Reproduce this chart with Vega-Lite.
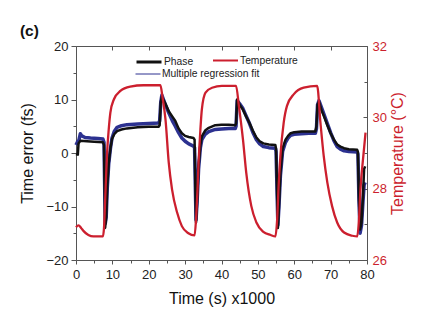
{
  "$schema": "https://vega.github.io/schema/vega-lite/v6.json",
  "width": 291,
  "height": 214,
  "autosize": {"type": "none"},
  "padding": {"left": 76, "top": 46, "right": 69, "bottom": 74},
  "title": {"text": "(c)", "anchor": "start", "frame": "bounds", "offset": 1, "fontSize": 15.5, "fontWeight": "bold", "font": "Liberation Sans", "color": "#111111"},
  "config": {
    "view": {"stroke": null},
    "font": "Liberation Sans",
    "axis": {"grid": false, "domainColor": "#555555", "tickColor": "#555555", "labelColor": "#222222", "titleColor": "#111111", "labelFontSize": 13, "titleFontSize": 16, "titleFontWeight": "normal", "labelFont": "Liberation Sans", "titleFont": "Liberation Sans", "domainWidth": 1, "tickWidth": 1, "labelFlush": false},
    "legend": {"title": null, "orient": "none", "symbolType": "stroke", "symbolSize": 625, "labelFontSize": 10.3, "labelColor": "#222222", "labelOffset": 1, "labelFont": "Liberation Sans"}
  },
  "datasets": {
    "fit": [
      {"t": 0, "v": 1.5, "series": "Multiple regression fit"},
      {"t": 0.5, "v": 2.2, "series": "Multiple regression fit"},
      {"t": 0.8, "v": 2.4, "series": "Multiple regression fit"},
      {"t": 1.2, "v": 3.6, "series": "Multiple regression fit"},
      {"t": 1.6, "v": 3.2, "series": "Multiple regression fit"},
      {"t": 2.5, "v": 2.9, "series": "Multiple regression fit"},
      {"t": 4, "v": 2.8, "series": "Multiple regression fit"},
      {"t": 6, "v": 2.7, "series": "Multiple regression fit"},
      {"t": 7.4, "v": 2.6, "series": "Multiple regression fit"},
      {"t": 7.7, "v": 2.0, "series": "Multiple regression fit"},
      {"t": 7.9, "v": -7, "series": "Multiple regression fit"},
      {"t": 8.05, "v": -13.2, "series": "Multiple regression fit"},
      {"t": 8.3, "v": -12, "series": "Multiple regression fit"},
      {"t": 8.6, "v": -6.5, "series": "Multiple regression fit"},
      {"t": 9.0, "v": -2, "series": "Multiple regression fit"},
      {"t": 9.5, "v": 1.0, "series": "Multiple regression fit"},
      {"t": 9.9, "v": 2.8, "series": "Multiple regression fit"},
      {"t": 10.5, "v": 4.0, "series": "Multiple regression fit"},
      {"t": 11.3, "v": 4.8, "series": "Multiple regression fit"},
      {"t": 12.5, "v": 5.1, "series": "Multiple regression fit"},
      {"t": 14, "v": 5.3, "series": "Multiple regression fit"},
      {"t": 17, "v": 5.4, "series": "Multiple regression fit"},
      {"t": 20, "v": 5.5, "series": "Multiple regression fit"},
      {"t": 22.7, "v": 5.6, "series": "Multiple regression fit"},
      {"t": 23.0, "v": 6.0, "series": "Multiple regression fit"},
      {"t": 23.3, "v": 9.5, "series": "Multiple regression fit"},
      {"t": 23.6, "v": 10.8, "series": "Multiple regression fit"},
      {"t": 24.6, "v": 9.0, "series": "Multiple regression fit"},
      {"t": 25.5, "v": 7.5, "series": "Multiple regression fit"},
      {"t": 26.5, "v": 6.0, "series": "Multiple regression fit"},
      {"t": 27.3, "v": 5.0, "series": "Multiple regression fit"},
      {"t": 28.2, "v": 3.8, "series": "Multiple regression fit"},
      {"t": 29.1, "v": 2.8, "series": "Multiple regression fit"},
      {"t": 30, "v": 2.2, "series": "Multiple regression fit"},
      {"t": 31, "v": 1.7, "series": "Multiple regression fit"},
      {"t": 32.3, "v": 1.3, "series": "Multiple regression fit"},
      {"t": 32.6, "v": 1.0, "series": "Multiple regression fit"},
      {"t": 32.8, "v": -6, "series": "Multiple regression fit"},
      {"t": 33.0, "v": -12.5, "series": "Multiple regression fit"},
      {"t": 33.3, "v": -9, "series": "Multiple regression fit"},
      {"t": 33.7, "v": -3, "series": "Multiple regression fit"},
      {"t": 34.2, "v": 1.0, "series": "Multiple regression fit"},
      {"t": 34.6, "v": 2.5, "series": "Multiple regression fit"},
      {"t": 35.5, "v": 3.5, "series": "Multiple regression fit"},
      {"t": 36.5, "v": 4.0, "series": "Multiple regression fit"},
      {"t": 38.3, "v": 4.4, "series": "Multiple regression fit"},
      {"t": 40, "v": 4.5, "series": "Multiple regression fit"},
      {"t": 42, "v": 4.6, "series": "Multiple regression fit"},
      {"t": 43.8, "v": 4.6, "series": "Multiple regression fit"},
      {"t": 44.0, "v": 5.0, "series": "Multiple regression fit"},
      {"t": 44.3, "v": 9.8, "series": "Multiple regression fit"},
      {"t": 45, "v": 9.2, "series": "Multiple regression fit"},
      {"t": 45.9, "v": 8.3, "series": "Multiple regression fit"},
      {"t": 46.8, "v": 6.9, "series": "Multiple regression fit"},
      {"t": 47.7, "v": 5.5, "series": "Multiple regression fit"},
      {"t": 48.6, "v": 3.9, "series": "Multiple regression fit"},
      {"t": 49.6, "v": 2.5, "series": "Multiple regression fit"},
      {"t": 50.5, "v": 1.7, "series": "Multiple regression fit"},
      {"t": 51.5, "v": 1.2, "series": "Multiple regression fit"},
      {"t": 53, "v": 1.0, "series": "Multiple regression fit"},
      {"t": 54.8, "v": 0.9, "series": "Multiple regression fit"},
      {"t": 55.0, "v": 0.3, "series": "Multiple regression fit"},
      {"t": 55.3, "v": -8, "series": "Multiple regression fit"},
      {"t": 55.5, "v": -13.5, "series": "Multiple regression fit"},
      {"t": 55.8, "v": -10, "series": "Multiple regression fit"},
      {"t": 56.2, "v": -4.2, "series": "Multiple regression fit"},
      {"t": 56.8, "v": 0.3, "series": "Multiple regression fit"},
      {"t": 57.6, "v": 2.0, "series": "Multiple regression fit"},
      {"t": 58.3, "v": 2.8, "series": "Multiple regression fit"},
      {"t": 59.0, "v": 3.3, "series": "Multiple regression fit"},
      {"t": 60, "v": 3.5, "series": "Multiple regression fit"},
      {"t": 62, "v": 3.6, "series": "Multiple regression fit"},
      {"t": 64, "v": 3.7, "series": "Multiple regression fit"},
      {"t": 65.8, "v": 3.7, "series": "Multiple regression fit"},
      {"t": 66.1, "v": 4.5, "series": "Multiple regression fit"},
      {"t": 66.4, "v": 9.0, "series": "Multiple regression fit"},
      {"t": 66.8, "v": 9.8, "series": "Multiple regression fit"},
      {"t": 67.5, "v": 8.5, "series": "Multiple regression fit"},
      {"t": 68.2, "v": 7.2, "series": "Multiple regression fit"},
      {"t": 69.1, "v": 5.5, "series": "Multiple regression fit"},
      {"t": 70.0, "v": 3.8, "series": "Multiple regression fit"},
      {"t": 70.9, "v": 2.3, "series": "Multiple regression fit"},
      {"t": 71.8, "v": 1.2, "series": "Multiple regression fit"},
      {"t": 72.7, "v": 0.7, "series": "Multiple regression fit"},
      {"t": 73.7, "v": 0.4, "series": "Multiple regression fit"},
      {"t": 75, "v": 0.3, "series": "Multiple regression fit"},
      {"t": 77.3, "v": 0.2, "series": "Multiple regression fit"},
      {"t": 77.5, "v": -0.2, "series": "Multiple regression fit"},
      {"t": 77.8, "v": -9, "series": "Multiple regression fit"},
      {"t": 78.1, "v": -15, "series": "Multiple regression fit"},
      {"t": 78.5, "v": -13.5, "series": "Multiple regression fit"},
      {"t": 78.9, "v": -9, "series": "Multiple regression fit"},
      {"t": 79.2, "v": -6, "series": "Multiple regression fit"},
      {"t": 79.5, "v": -5.5, "series": "Multiple regression fit"}
    ],
    "phase": [
      {"t": 0, "v": -0.2, "series": "Phase"},
      {"t": 0.5, "v": -0.3, "series": "Phase"},
      {"t": 0.7, "v": 1.8, "series": "Phase"},
      {"t": 1.2, "v": 2.3, "series": "Phase"},
      {"t": 3, "v": 2.2, "series": "Phase"},
      {"t": 5, "v": 2.1, "series": "Phase"},
      {"t": 7.4, "v": 2.0, "series": "Phase"},
      {"t": 7.7, "v": 1.5, "series": "Phase"},
      {"t": 7.9, "v": -8, "series": "Phase"},
      {"t": 8.0, "v": -14, "series": "Phase"},
      {"t": 8.3, "v": -12, "series": "Phase"},
      {"t": 8.6, "v": -6, "series": "Phase"},
      {"t": 9.0, "v": -1.9, "series": "Phase"},
      {"t": 9.5, "v": 1.0, "series": "Phase"},
      {"t": 9.9, "v": 2.6, "series": "Phase"},
      {"t": 10.5, "v": 3.5, "series": "Phase"},
      {"t": 11.3, "v": 4.1, "series": "Phase"},
      {"t": 12.5, "v": 4.4, "series": "Phase"},
      {"t": 14, "v": 4.6, "series": "Phase"},
      {"t": 17, "v": 4.8, "series": "Phase"},
      {"t": 20, "v": 4.9, "series": "Phase"},
      {"t": 22.7, "v": 4.9, "series": "Phase"},
      {"t": 23.0, "v": 5.2, "series": "Phase"},
      {"t": 23.3, "v": 9.5, "series": "Phase"},
      {"t": 23.6, "v": 10.5, "series": "Phase"},
      {"t": 24.6, "v": 9.2, "series": "Phase"},
      {"t": 25.5, "v": 7.8, "series": "Phase"},
      {"t": 26.5, "v": 6.8, "series": "Phase"},
      {"t": 27.3, "v": 6.0, "series": "Phase"},
      {"t": 28.2, "v": 4.6, "series": "Phase"},
      {"t": 29.1, "v": 3.7, "series": "Phase"},
      {"t": 30, "v": 3.2, "series": "Phase"},
      {"t": 31, "v": 3.0, "series": "Phase"},
      {"t": 32.3, "v": 2.8, "series": "Phase"},
      {"t": 32.6, "v": 2.5, "series": "Phase"},
      {"t": 32.8, "v": -6, "series": "Phase"},
      {"t": 33.0, "v": -13, "series": "Phase"},
      {"t": 33.3, "v": -9, "series": "Phase"},
      {"t": 33.7, "v": -2.5, "series": "Phase"},
      {"t": 34.2, "v": 1.5, "series": "Phase"},
      {"t": 34.6, "v": 3.1, "series": "Phase"},
      {"t": 35.5, "v": 4.2, "series": "Phase"},
      {"t": 36.5, "v": 4.7, "series": "Phase"},
      {"t": 38.3, "v": 5.2, "series": "Phase"},
      {"t": 40, "v": 5.3, "series": "Phase"},
      {"t": 42, "v": 5.3, "series": "Phase"},
      {"t": 43.8, "v": 5.2, "series": "Phase"},
      {"t": 44.0, "v": 5.5, "series": "Phase"},
      {"t": 44.3, "v": 10.0, "series": "Phase"},
      {"t": 45, "v": 9.0, "series": "Phase"},
      {"t": 45.9, "v": 8.1, "series": "Phase"},
      {"t": 46.8, "v": 6.8, "series": "Phase"},
      {"t": 47.7, "v": 5.6, "series": "Phase"},
      {"t": 48.6, "v": 4.2, "series": "Phase"},
      {"t": 49.6, "v": 2.9, "series": "Phase"},
      {"t": 50.5, "v": 2.2, "series": "Phase"},
      {"t": 51.5, "v": 1.8, "series": "Phase"},
      {"t": 53, "v": 1.6, "series": "Phase"},
      {"t": 54.8, "v": 1.5, "series": "Phase"},
      {"t": 55.0, "v": 0.8, "series": "Phase"},
      {"t": 55.3, "v": -8, "series": "Phase"},
      {"t": 55.5, "v": -14, "series": "Phase"},
      {"t": 55.8, "v": -10, "series": "Phase"},
      {"t": 56.2, "v": -3.7, "series": "Phase"},
      {"t": 56.8, "v": 0.8, "series": "Phase"},
      {"t": 57.6, "v": 2.5, "series": "Phase"},
      {"t": 58.3, "v": 3.2, "series": "Phase"},
      {"t": 59.0, "v": 3.7, "series": "Phase"},
      {"t": 60, "v": 3.9, "series": "Phase"},
      {"t": 62, "v": 4.0, "series": "Phase"},
      {"t": 64, "v": 4.0, "series": "Phase"},
      {"t": 65.8, "v": 4.0, "series": "Phase"},
      {"t": 66.1, "v": 5.0, "series": "Phase"},
      {"t": 66.4, "v": 9.0, "series": "Phase"},
      {"t": 66.8, "v": 9.6, "series": "Phase"},
      {"t": 67.5, "v": 8.0, "series": "Phase"},
      {"t": 68.2, "v": 6.8, "series": "Phase"},
      {"t": 69.1, "v": 5.2, "series": "Phase"},
      {"t": 70.0, "v": 3.7, "series": "Phase"},
      {"t": 70.9, "v": 2.5, "series": "Phase"},
      {"t": 71.8, "v": 1.6, "series": "Phase"},
      {"t": 72.7, "v": 1.2, "series": "Phase"},
      {"t": 73.7, "v": 0.9, "series": "Phase"},
      {"t": 75, "v": 0.7, "series": "Phase"},
      {"t": 77.3, "v": 0.6, "series": "Phase"},
      {"t": 77.5, "v": 0.2, "series": "Phase"},
      {"t": 77.8, "v": -9, "series": "Phase"},
      {"t": 78.1, "v": -14.3, "series": "Phase"},
      {"t": 78.5, "v": -13, "series": "Phase"},
      {"t": 78.9, "v": -8, "series": "Phase"},
      {"t": 79.2, "v": -3, "series": "Phase"},
      {"t": 79.5, "v": -2.5, "series": "Phase"}
    ],
    "temp": [
      {"t": 0, "T": 26.92, "series": "Temperature"},
      {"t": 0.7, "T": 26.97, "series": "Temperature"},
      {"t": 1.4, "T": 26.9, "series": "Temperature"},
      {"t": 2.1, "T": 26.81, "series": "Temperature"},
      {"t": 3.4, "T": 26.7, "series": "Temperature"},
      {"t": 4.8, "T": 26.66, "series": "Temperature"},
      {"t": 7.4, "T": 26.66, "series": "Temperature"},
      {"t": 7.7, "T": 26.9, "series": "Temperature"},
      {"t": 8.06, "T": 27.79, "series": "Temperature"},
      {"t": 8.5, "T": 28.92, "series": "Temperature"},
      {"t": 9.0, "T": 29.66, "series": "Temperature"},
      {"t": 9.45, "T": 30.13, "series": "Temperature"},
      {"t": 10.4, "T": 30.5, "series": "Temperature"},
      {"t": 12.2, "T": 30.74, "series": "Temperature"},
      {"t": 14.9, "T": 30.86, "series": "Temperature"},
      {"t": 18.6, "T": 30.9, "series": "Temperature"},
      {"t": 23.2, "T": 30.9, "series": "Temperature"},
      {"t": 23.8, "T": 30.55, "series": "Temperature"},
      {"t": 24.6, "T": 29.94, "series": "Temperature"},
      {"t": 25.5, "T": 28.73, "series": "Temperature"},
      {"t": 26.4, "T": 27.98, "series": "Temperature"},
      {"t": 27.8, "T": 27.33, "series": "Temperature"},
      {"t": 29.1, "T": 26.95, "series": "Temperature"},
      {"t": 30.9, "T": 26.75, "series": "Temperature"},
      {"t": 32.6, "T": 26.69, "series": "Temperature"},
      {"t": 33.0, "T": 27.14, "series": "Temperature"},
      {"t": 33.4, "T": 27.98, "series": "Temperature"},
      {"t": 33.7, "T": 28.73, "series": "Temperature"},
      {"t": 34.2, "T": 29.66, "series": "Temperature"},
      {"t": 34.6, "T": 30.22, "series": "Temperature"},
      {"t": 35.6, "T": 30.69, "series": "Temperature"},
      {"t": 37.4, "T": 30.83, "series": "Temperature"},
      {"t": 40.1, "T": 30.88, "series": "Temperature"},
      {"t": 44.0, "T": 30.88, "series": "Temperature"},
      {"t": 44.8, "T": 30.3, "series": "Temperature"},
      {"t": 45.9, "T": 29.38, "series": "Temperature"},
      {"t": 46.8, "T": 28.45, "series": "Temperature"},
      {"t": 48.2, "T": 27.51, "series": "Temperature"},
      {"t": 49.6, "T": 27.05, "series": "Temperature"},
      {"t": 51.5, "T": 26.79, "series": "Temperature"},
      {"t": 53.5, "T": 26.7, "series": "Temperature"},
      {"t": 54.8, "T": 26.66, "series": "Temperature"},
      {"t": 55.3, "T": 27.14, "series": "Temperature"},
      {"t": 55.7, "T": 28.07, "series": "Temperature"},
      {"t": 56.2, "T": 28.92, "series": "Temperature"},
      {"t": 57.1, "T": 29.85, "series": "Temperature"},
      {"t": 58.0, "T": 30.32, "series": "Temperature"},
      {"t": 59.9, "T": 30.65, "series": "Temperature"},
      {"t": 62.6, "T": 30.83, "series": "Temperature"},
      {"t": 66.3, "T": 30.88, "series": "Temperature"},
      {"t": 67.2, "T": 29.85, "series": "Temperature"},
      {"t": 68.1, "T": 28.92, "series": "Temperature"},
      {"t": 69.1, "T": 28.17, "series": "Temperature"},
      {"t": 70.4, "T": 27.51, "series": "Temperature"},
      {"t": 71.8, "T": 27.05, "series": "Temperature"},
      {"t": 73.7, "T": 26.77, "series": "Temperature"},
      {"t": 76.0, "T": 26.68, "series": "Temperature"},
      {"t": 77.3, "T": 26.66, "series": "Temperature"},
      {"t": 77.8, "T": 27.14, "series": "Temperature"},
      {"t": 78.2, "T": 27.98, "series": "Temperature"},
      {"t": 78.9, "T": 28.82, "series": "Temperature"},
      {"t": 79.6, "T": 29.57, "series": "Temperature"}
    ]
  },
  "layer": [
    {
      "data": {"name": "fit"},
      "mark": {"type": "line", "strokeWidth": 3.5, "strokeJoin": "round"},
      "encoding": {
        "x": {
          "field": "t", "type": "quantitative",
          "scale": {"domain": [0, 80], "nice": false},
          "axis": {
            "values": [0, 5, 10, 15, 20, 25, 30, 35, 40, 45, 50, 55, 60, 65, 70, 75, 80],
            "labelExpr": "datum.value % 10 === 0 ? datum.label : ''",
            "tickSize": {"condition": {"test": "datum.value % 10 === 0", "value": 4}, "value": 3},
            "labelPadding": 4,
            "title": "Time (s) x1000",
            "titlePadding": 9
          }
        },
        "y": {
          "field": "v", "type": "quantitative",
          "scale": {"domain": [-20, 20], "nice": false},
          "axis": {
            "orient": "left",
            "values": [-20, -15, -10, -5, 0, 5, 10, 15, 20],
            "labelExpr": "datum.value % 10 === 0 ? datum.label : ''",
            "tickSize": {"condition": {"test": "datum.value % 10 === 0", "value": 5}, "value": 3},
            "labelPadding": 3,
            "title": "Time error (fs)",
            "titlePadding": 10
          }
        },
        "color": {
          "field": "series", "type": "nominal",
          "scale": {"domain": ["Multiple regression fit"], "range": ["#2c3190"]},
          "legend": {"legendX": 59, "legendY": 15, "symbolStrokeWidth": 1}
        }
      }
    },
    {
      "data": {"name": "phase"},
      "mark": {"type": "line", "strokeWidth": 2.5, "strokeJoin": "round"},
      "encoding": {
        "x": {"field": "t", "type": "quantitative", "scale": {"domain": [0, 80], "nice": false}, "axis": null},
        "y": {"field": "v", "type": "quantitative", "scale": {"domain": [-20, 20], "nice": false}, "axis": null},
        "color": {
          "field": "series", "type": "nominal",
          "scale": {"domain": ["Phase"], "range": ["#111111"]},
          "legend": {"legendX": 59, "legendY": 2, "symbolStrokeWidth": 3}
        }
      }
    },
    {
      "data": {"name": "temp"},
      "mark": {"type": "line", "strokeWidth": 2.3, "strokeJoin": "round", "interpolate": "monotone"},
      "encoding": {
        "x": {
          "field": "t", "type": "quantitative",
          "scale": {"domain": [0, 80], "nice": false},
          "axis": {"orient": "top", "values": [0, 10, 20, 30, 40, 50, 60, 70, 80], "labels": false, "tickSize": -4, "title": null}
        },
        "y": {
          "field": "T", "type": "quantitative",
          "scale": {"domain": [26, 32], "nice": false},
          "axis": {
            "orient": "right",
            "values": [26, 27, 28, 29, 30, 31, 32],
            "labelExpr": "datum.value % 2 === 0 ? datum.label : ''",
            "tickSize": {"condition": {"test": "datum.value % 2 === 0", "value": -4}, "value": -3},
            "labelPadding": 9,
            "labelColor": "#cc1f2e",
            "labelFontSize": 13,
            "title": "Temperature (°C)",
            "titleColor": "#cc1f2e",
            "titleAngle": 270,
            "titleBaseline": "top",
            "titlePadding": 3
          }
        },
        "color": {
          "field": "series", "type": "nominal",
          "scale": {"domain": ["Temperature"], "range": ["#cc1f2e"]},
          "legend": {"legendX": 136, "legendY": 1, "symbolStrokeWidth": 2}
        }
      }
    }
  ],
  "resolve": {
    "scale": {"y": "independent", "color": "independent"},
    "axis": {"x": "independent", "y": "independent"}
  }
}
